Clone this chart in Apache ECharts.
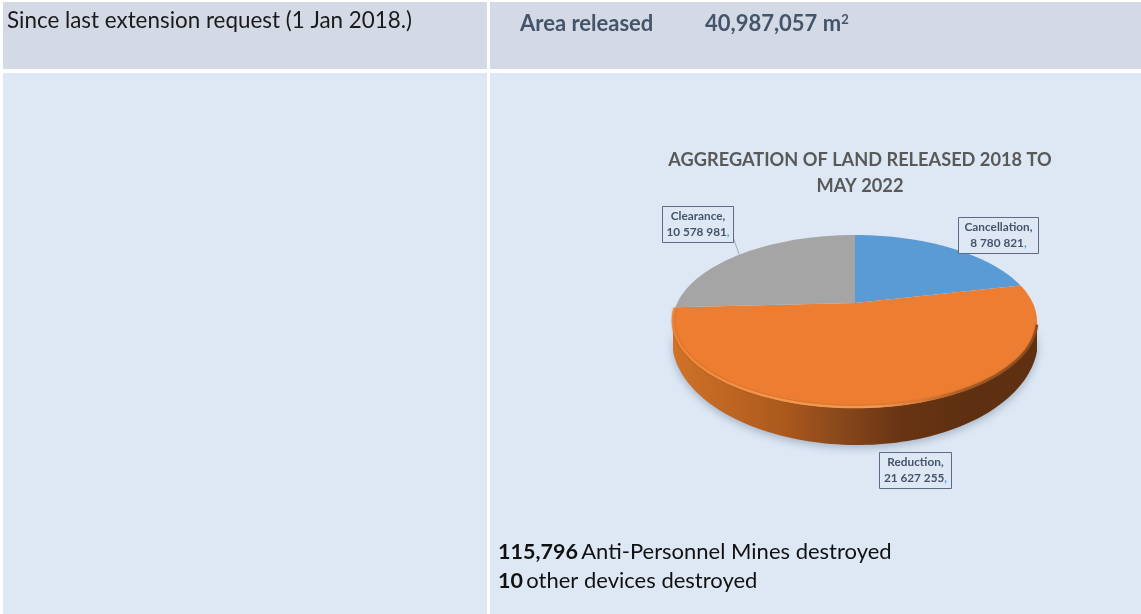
<!DOCTYPE html>
<html>
<head>
<meta charset="utf-8">
<style>html,body{margin:0;padding:0;background:#fff}#chart{width:1141px;height:614px}</style>
<script src="https://cdn.jsdelivr.net/npm/echarts@6/dist/echarts.min.js"></script>
</head>
<body>
<div id="chart"></div>
<script>
// Land release figures, square metres
const categories = ['Cancellation', 'Reduction', 'Clearance'];
const areaValues = [8780821, 21627255, 10578981];
const sliceColors = ['#5b9bd5', '#ed7d31', '#a5a5a5'];
const chartTitle = 'AGGREGATION OF LAND RELEASED 2018 TO\nMAY 2022';

// Label boxes around the disc: left, top, width, height
const labelBoxes = [[958, 217, 80, 36], [879, 452, 72, 36], [662, 206, 71, 36]];

// Disc seen in perspective: a unit circle projected through a homography
const DISC = { cx: 855, apexY: 303, rx: 177.8, ry: 82.6, k: 0.214 };
// Lower edge of the extruded wall
const BASE = { cx: 858, cy: 340, rxLeft: 186, rxRight: 180, ry: 105 };
const FRONT_START = 102, FRONT_END = 258;

const total = areaValues.reduce((a, b) => a + b, 0);
const startAngles = [];
areaValues.reduce((acc, v, i) => { startAngles[i] = acc; return acc + v / total * 360; }, 0);

function discPoint(deg) {
  const t = deg * Math.PI / 180, u = Math.sin(t), v = Math.cos(t), w = 1 + DISC.k * v;
  return [DISC.cx + DISC.rx * u / w, DISC.apexY - DISC.ry * v / w];
}
function basePoint(p) {
  const dx = p[0] - BASE.cx;
  const d = dx / (dx < 0 ? BASE.rxLeft : BASE.rxRight);
  return [p[0], BASE.cy + BASE.ry * Math.sqrt(Math.max(0, 1 - d * d))];
}
function arc(from, to) {
  const pts = [], n = Math.max(2, Math.ceil((to - from) / 1.5));
  for (let i = 0; i <= n; i++) pts.push(discPoint(from + (to - from) * i / n));
  return pts;
}
function sliceRange(i) {
  const from = startAngles[i];
  return [from, from + areaValues[i] / total * 360];
}
const hGradient = (stops) => new echarts.graphic.LinearGradient(673, 0, 1037, 0, stops, true);

// Top face of each slice
function renderTop(params, api) {
  const r = sliceRange(params.dataIndex);
  return {
    type: 'polygon',
    shape: { points: [[DISC.cx, DISC.apexY]].concat(arc(r[0], r[1])) },
    style: { fill: api.visual('color') }
  };
}

// Front wall and rim bevel, only for the part of a slice facing the viewer
function renderWall(params) {
  const r = sliceRange(params.dataIndex);
  const from = Math.max(r[0], FRONT_START), to = Math.min(r[1], FRONT_END);
  if (to <= from) return { type: 'group', children: [] };
  const top = arc(from, to);
  const bottom = top.map(basePoint).reverse();
  return {
    type: 'polygon',
    shape: { points: top.concat(bottom) },
    style: {
      fill: hGradient([
        { offset: 0, color: '#d07228' }, { offset: 0.29, color: '#ae5a1e' },
        { offset: 0.485, color: '#84451a' }, { offset: 0.62, color: '#693514' },
        { offset: 0.8, color: '#5e3011' }, { offset: 1, color: '#5f3011' }
      ]),
      shadowBlur: 9, shadowColor: 'rgba(80,100,130,0.4)', shadowOffsetY: 3
    }
  };
}
function renderBevel(params) {
  const r = sliceRange(params.dataIndex);
  const from = Math.max(r[0], FRONT_START + 3), to = Math.min(r[1], FRONT_END + 8);
  if (to <= from) return { type: 'group', children: [] };
  return {
    type: 'polyline',
    shape: { points: arc(from, to).map(p => [p[0], p[1] - 1]) },
    style: {
      fill: 'none', lineWidth: 2.5,
      shadowBlur: 2, shadowColor: 'rgba(130,70,25,0.55)',
      stroke: hGradient([
        { offset: 0, color: '#f08436' }, { offset: 0.25, color: '#f49549' },
        { offset: 0.55, color: '#f39a55' }, { offset: 0.68, color: '#d77c36' },
        { offset: 0.8, color: '#a65c24' }, { offset: 1, color: '#8a4a1c' }
      ])
    }
  };
}

const spaced = (n) => String(n).replace(/\B(?=(\d{3})+$)/g, ' ');

function renderLabel(params, api) {
  const i = params.dataIndex, b = labelBoxes[i];
  const children = [{
    type: 'rect',
    shape: { x: b[0] + 0.5, y: b[1] + 0.5, width: b[2], height: b[3] },
    style: { fill: '#dde8f4', stroke: '#5b6b86', lineWidth: 1 }
  }, {
    type: 'text',
    style: {
      x: b[0] + b[2] / 2 + 0.5, y: b[1] + b[3] / 2 + 0.5,
      align: 'center', verticalAlign: 'middle',
      text: '{t|' + categories[i] + ',}\n{t|' + spaced(api.value(0)) + '}{c|,}',
      rich: {
        t: { font: 'bold 11.8px Lato', fill: '#44546a', lineHeight: 16 },
        c: { font: 'bold 11.8px Lato', fill: '#5b9bd5', lineHeight: 16 }
      }
    }
  }];
  if (i === 2) {
    children.unshift({
      type: 'line',
      shape: { x1: b[0] + b[2], y1: b[1] + b[3] - 5, x2: b[0] + b[2] + 6, y2: b[1] + b[3] + 12 },
      style: { stroke: '#a6a6a6', lineWidth: 1 }
    });
  }
  return { type: 'group', children };
}

const seriesData = areaValues.map((v, i) => ({
  name: categories[i], value: v, itemStyle: { color: sliceColors[i] }
}));
const customSeries = (renderItem, z) => ({
  type: 'custom', coordinateSystem: 'none', renderItem, data: seriesData,
  z, silent: true, animation: false
});

const panel = (x, y, width, height, fill) => ({
  type: 'rect', z: 0, shape: { x, y, width, height }, style: { fill }
});
const text = (x, y, str, rich) => ({
  type: 'text', z: 1, x, y,
  style: { text: str, rich, verticalAlign: 'middle', align: 'left' }
});

const bodyRich = {
  b: { font: 'bold 21.5px Lato', fill: '#111111' },
  n: { font: '22px Lato', fill: '#111111' }
};
const headRich = {
  n: { font: '22.4px Lato', fill: '#1a1a1a' },
  h: { font: 'bold 22px Lato', fill: '#44546a' },
  s: { font: 'bold 13px Lato', fill: '#44546a', verticalAlign: 'top' }
};

const chart = echarts.init(document.getElementById('chart'), null, { renderer: 'canvas' });
chart.setOption({
  backgroundColor: '#ffffff',
  animation: false,
  title: {
    text: chartTitle, left: 855, top: 142, textAlign: 'center',
    textStyle: { fontFamily: 'Lato', fontWeight: 'bold', fontSize: 18.2, color: '#595959', lineHeight: 26 }
  },
  graphic: [
    panel(3, 2, 484, 67, '#d3dae5'),
    panel(490, 2, 651, 67, '#d3dae5'),
    panel(3, 73, 484, 541, '#dde8f4'),
    panel(490, 73, 651, 541, '#dde8f4'),
    text(7, 21, '{n|Since last extension request (1 Jan 2018.)}', headRich),
    text(520, 24, '{h|Area released}', headRich),
    text(705, 24, '{h|40,987,057 m}{s|2}', headRich),
    text(498, 552, '{b|115,796} {n|Anti-Personnel Mines destroyed}', bodyRich),
    text(498, 581, '{b|10} {n|other devices destroyed}', bodyRich)
  ],
  series: [
    customSeries(renderWall, 2),
    customSeries(renderTop, 3),
    customSeries(renderBevel, 4),
    customSeries(renderLabel, 5)
  ]
});
</script>
</body>
</html>
